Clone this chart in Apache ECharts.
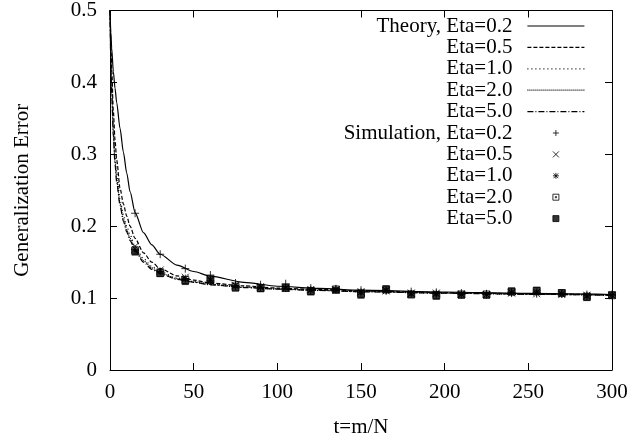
<!DOCTYPE html>
<html><head><meta charset="utf-8">
<script src="https://cdn.jsdelivr.net/npm/echarts@6/dist/echarts.min.js"></script>
<style>html,body{margin:0;padding:0;background:#fff}#c{width:631px;height:443px}</style>
</head><body><div id="c"></div>
<script>
// Theory curves: t values and generalization error per learning rate
const thT      = [0, 0.5, 1, 2, 3, 4, 6, 8, 10, 12, 15, 20, 25, 30, 40, 50, 60, 80, 100, 125, 150, 200, 250, 300];
const thEta02  = [0.5, 0.47, 0.448, 0.415, 0.392, 0.372, 0.336, 0.303, 0.274, 0.248, 0.219, 0.191, 0.174, 0.161, 0.146, 0.137, 0.1305, 0.122, 0.1165, 0.1135, 0.111, 0.1085, 0.1065, 0.105];
const thEta05  = [0.5, 0.455, 0.42, 0.36, 0.32, 0.292, 0.253, 0.231, 0.214, 0.2, 0.183, 0.163, 0.15, 0.141, 0.131, 0.125, 0.121, 0.117, 0.114, 0.112, 0.110, 0.1075, 0.106, 0.1045];
const thEta10  = [0.5, 0.44, 0.4, 0.34, 0.3, 0.273, 0.238, 0.216, 0.2, 0.188, 0.172, 0.155, 0.144, 0.137, 0.128, 0.123, 0.1195, 0.1155, 0.113, 0.111, 0.1093, 0.107, 0.1055, 0.104];
const thEta20  = [0.5, 0.43, 0.39, 0.33, 0.29, 0.265, 0.232, 0.21, 0.195, 0.183, 0.168, 0.152, 0.142, 0.135, 0.127, 0.1225, 0.119, 0.115, 0.1127, 0.1108, 0.109, 0.107, 0.1055, 0.104];
const thEta50  = [0.5, 0.425, 0.385, 0.325, 0.286, 0.261, 0.229, 0.207, 0.192, 0.18, 0.166, 0.15, 0.14, 0.134, 0.126, 0.122, 0.1185, 0.1147, 0.1125, 0.1106, 0.1088, 0.1068, 0.1053, 0.104];
// Simulation points
const simT     = [15, 30, 45, 60, 75, 90, 105, 120, 135, 150, 165, 180, 195, 210, 225, 240, 255, 270, 285, 300];
const simEta02 = [0.218, 0.161, 0.141, 0.132, 0.121, 0.1186, 0.12, 0.114, 0.113, 0.111, 0.110, 0.109, 0.108, 0.107, 0.106, 0.107, 0.106, 0.106, 0.105, 0.105];
const simEta05 = [0.172, 0.139, 0.129, 0.126, 0.118, 0.116, 0.114, 0.112, 0.111, 0.109, 0.110, 0.107, 0.107, 0.106, 0.105, 0.107, 0.106, 0.105, 0.104, 0.104];
const simEta10 = [0.168, 0.137, 0.127, 0.124, 0.117, 0.115, 0.114, 0.111, 0.112, 0.108, 0.111, 0.106, 0.106, 0.105, 0.105, 0.108, 0.108, 0.106, 0.103, 0.104];
const simEta20 = [0.166, 0.135, 0.125, 0.126, 0.115, 0.114, 0.114, 0.110, 0.112, 0.106, 0.112, 0.105, 0.104, 0.105, 0.105, 0.109, 0.110, 0.107, 0.102, 0.104];
const simEta50 = [0.164, 0.134, 0.123, 0.1246, 0.114, 0.113, 0.114, 0.1085, 0.111, 0.104, 0.113, 0.105, 0.1025, 0.104, 0.104, 0.110, 0.111, 0.1076, 0.1007, 0.1044];
// Labels
const seriesNames  = ['th02', 'th05', 'th10', 'th20', 'th50', 'sim02', 'sim05', 'sim10', 'sim20', 'sim50'];
const legendLabels = ['Theory, Eta=0.2', 'Eta=0.5', 'Eta=1.0', 'Eta=2.0', 'Eta=5.0',
                      'Simulation, Eta=0.2', 'Eta=0.5', 'Eta=1.0', 'Eta=2.0', 'Eta=5.0'];
const xTitle = 't=m/N';
const yTitle = 'Generalization Error';

const zip = (xs, ys) => xs.map((x, i) => [x, ys[i]]);
const labelMap = {};
seriesNames.forEach((n, i) => labelMap[n] = legendLabels[i]);

const FONT = 'Liberation Serif';
const dashes = ['solid', [4, 2], [1, 3], [1, 1], [6, 2, 1, 2]];
const thData = [thEta02, thEta05, thEta10, thEta20, thEta50];
const simData = [simEta02, simEta05, simEta10, simEta20, simEta50];
const symbols = [
  'path://M5,0L5,10M0,5L10,5',
  'path://M0,0L10,10M0,10L10,0',
  'path://M5,0L5,10M0,5L10,5M1,1L9,9M1,9L9,1',
  'path://M0,0L10,0L10,10L0,10ZM4,4L6,4L6,6L4,6Z',
  'path://M0,0L10,0L10,10L0,10Z'
];
const symSizes = [8, 7, 8, 7, 7];

const series = [];
thData.forEach((d, i) => {
  series.push({
    name: seriesNames[i], type: 'line', data: zip(thT, d),
    symbol: 'none', smooth: 0.25, smoothMonotone: 'x',
    lineStyle: { color: '#000', width: 1.2, type: dashes[i] },
    itemStyle: { color: '#000' },
    z: 2, silent: true
  });
});
simData.forEach((d, i) => {
  const filled = i === 4;
  series.push({
    name: seriesNames[5 + i], type: 'scatter', data: zip(simT, d),
    symbol: symbols[i], symbolSize: symSizes[i],
    itemStyle: filled ? { color: '#000', borderColor: '#000', borderWidth: 0 }
                      : { color: 'rgba(0,0,0,0)', borderColor: '#000', borderWidth: 1 },
    z: 3, silent: true
  });
});

const axisCommon = {
  axisLine: { show: true, onZero: false, lineStyle: { color: '#000', width: 1 } },
  axisTick: { show: true, inside: true, length: 7, lineStyle: { color: '#000', width: 1 } },
  splitLine: { show: false }
};

const legendData = seriesNames.map((n, i) => i < 5
  ? { name: n, itemStyle: { color: 'rgba(0,0,0,0)', borderColor: 'rgba(0,0,0,0)', borderWidth: 0 } }
  : { name: n });

const chart = echarts.init(document.getElementById('c'), null, { renderer: 'canvas' });
chart.setOption({
  animation: false,
  backgroundColor: '#fff',
  grid: { left: 110, right: 19, top: 9.5, bottom: 71, containLabel: false },
  xAxis: [
    Object.assign({ type: 'value', min: 0, max: 300, interval: 50, position: 'bottom',
      name: xTitle, nameLocation: 'middle', nameGap: 47,
      nameTextStyle: { fontFamily: FONT, fontSize: 21, color: '#000' },
      axisLabel: { fontFamily: FONT, fontSize: 21, color: '#000', margin: 12 } }, axisCommon),
    Object.assign({ type: 'value', min: 0, max: 300, interval: 50, position: 'top',
      axisLabel: { show: false } }, axisCommon)
  ],
  yAxis: [
    Object.assign({ type: 'value', min: 0, max: 0.5, interval: 0.1, position: 'left',
      name: yTitle, nameLocation: 'middle', nameGap: 77, nameRotate: 90,
      nameTextStyle: { fontFamily: FONT, fontSize: 21, color: '#000' },
      axisLabel: { fontFamily: FONT, fontSize: 21, color: '#000', margin: 13 } }, axisCommon),
    Object.assign({ type: 'value', min: 0, max: 0.5, interval: 0.1, position: 'right',
      axisLabel: { show: false } }, axisCommon)
  ],
  legend: {
    orient: 'vertical', right: 46, top: 15.5, align: 'right',
    itemWidth: 57, itemHeight: 6, itemGap: 0.4, padding: 0,
    selectedMode: false,
    textStyle: { fontFamily: FONT, fontSize: 21, color: '#000', padding: [0, 10, 0, 0] },
    itemStyle: { borderWidth: 1 },
    lineStyle: { width: 1.2 },
    formatter: n => labelMap[n],
    data: legendData
  },
  series: series
});
</script>
</body></html>
